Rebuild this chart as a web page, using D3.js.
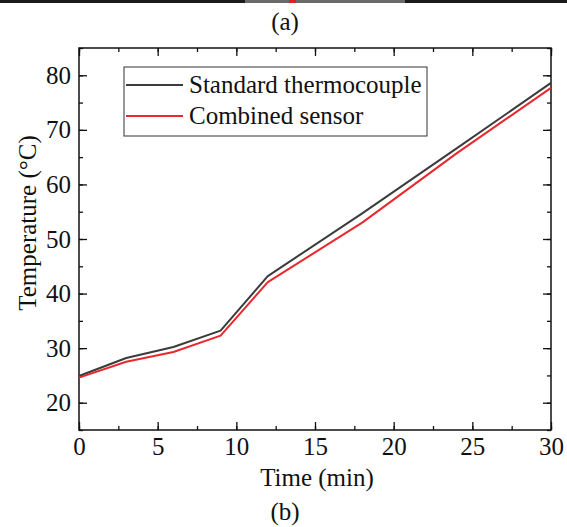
<!DOCTYPE html>
<html><head><meta charset="utf-8">
<script src="https://cdn.jsdelivr.net/npm/d3@7"></script>
<style>
body{margin:0;background:#fff;}
svg text{font-family:"Liberation Serif","Times New Roman",serif;fill:#111;}
</style></head>
<body><svg id="c" width="567" height="527"></svg>
<script>
const times = [0, 3, 6, 9, 12, 18, 24, 30];
const standardThermocouple = [24.9, 28.2, 30.2, 33.2, 43.2, 54.7, 66.6, 78.6];
const combinedSensor = [24.6, 27.5, 29.3, 32.3, 42.1, 53.0, 65.7, 77.7];
const seriesNames = ["Standard thermocouple", "Combined sensor"];
const seriesColors = ["#3b3b3b", "#e8282c"];
const xTicks = [0, 5, 10, 15, 20, 25, 30];
const yTicks = [20, 30, 40, 50, 60, 70, 80];

const FS = 25;
const svg = d3.select("#c");
const L = 79, R = 551, T = 48, B = 430;
const x = d3.scaleLinear().domain([0, 30]).range([L, R]);
const y = d3.scaleLinear().domain([15, 85]).range([B, T]);

// top decorative strip (remnant of panel above)
svg.append("rect").attr("x",0).attr("y",0).attr("width",567).attr("height",3).attr("fill","#1a1a1a");
svg.append("rect").attr("x",245).attr("y",0).attr("width",160).attr("height",3).attr("fill","#6a6a6a");
svg.append("rect").attr("x",289).attr("y",0).attr("width",7).attr("height",3).attr("fill","#d22");

svg.append("text").attr("x",285).attr("y",30).attr("text-anchor","middle").attr("font-size",FS).text("(a)");
svg.append("text").attr("x",285).attr("y",520).attr("text-anchor","middle").attr("font-size",FS).text("(b)");

// axes with inward ticks
const minorX = d3.range(0, 30.01, 2.5);
const minorY = d3.range(15, 85.01, 5);
svg.append("g").attr("transform",`translate(0,${B})`)
  .call(d3.axisBottom(x).tickValues(minorX).tickSize(-4).tickFormat(""));
svg.append("g").attr("transform",`translate(0,${B})`)
  .call(d3.axisBottom(x).tickValues(xTicks).tickSize(-8).tickPadding(7).tickFormat(d3.format("d")));
svg.append("g").attr("transform",`translate(0,${T})`)
  .call(d3.axisTop(x).tickValues(minorX).tickSize(-4).tickFormat(""));
svg.append("g").attr("transform",`translate(0,${T})`)
  .call(d3.axisTop(x).tickValues(xTicks).tickSize(-8).tickFormat(""));
svg.append("g").attr("transform",`translate(${L},0)`)
  .call(d3.axisLeft(y).tickValues(minorY).tickSize(-4).tickFormat(""));
svg.append("g").attr("transform",`translate(${L},0)`)
  .call(d3.axisLeft(y).tickValues(yTicks).tickSize(-8).tickPadding(8).tickFormat(d3.format("d")));
svg.append("g").attr("transform",`translate(${R},0)`)
  .call(d3.axisRight(y).tickValues(minorY).tickSize(-4).tickFormat(""));
svg.append("g").attr("transform",`translate(${R},0)`)
  .call(d3.axisRight(y).tickValues(yTicks).tickSize(-8).tickFormat(""));
svg.selectAll(".domain").remove();
svg.selectAll(".tick line").attr("stroke","#111").attr("stroke-width",1.3);
svg.selectAll(".tick text").attr("font-size",FS).attr("font-family","Liberation Serif").attr("fill","#111");

// frame
svg.append("rect").attr("x",L).attr("y",T).attr("width",R-L).attr("height",B-T)
  .attr("fill","none").attr("stroke","#111").attr("stroke-width",1.5);

// lines
const line = d3.line().x((d,i)=>x(times[i])).y(d=>y(d));
[standardThermocouple, combinedSensor].forEach((s,k)=>{
  svg.append("path").datum(s).attr("d",line).attr("fill","none")
    .attr("stroke",seriesColors[k]).attr("stroke-width",2).attr("stroke-linejoin","round");
});

// axis titles
svg.append("text").attr("x",317).attr("y",486).attr("text-anchor","middle").attr("font-size",FS).text("Time (min)");
svg.append("text").attr("transform",`translate(36,223) rotate(-90)`).attr("text-anchor","middle").attr("font-size",FS).text("Temperature (°C)");

// legend
const lg = svg.append("g");
lg.append("rect").attr("x",124).attr("y",67).attr("width",303).attr("height",69)
  .attr("fill","#fff").attr("stroke","#333").attr("stroke-width",1);
seriesNames.forEach((n,k)=>{
  const yy = 85 + k*31;
  lg.append("line").attr("x1",126).attr("x2",183).attr("y1",yy).attr("y2",yy)
    .attr("stroke",seriesColors[k]).attr("stroke-width",2);
  lg.append("text").attr("x",189).attr("y",yy+8).attr("font-size",FS).text(n);
});
</script></body></html>
